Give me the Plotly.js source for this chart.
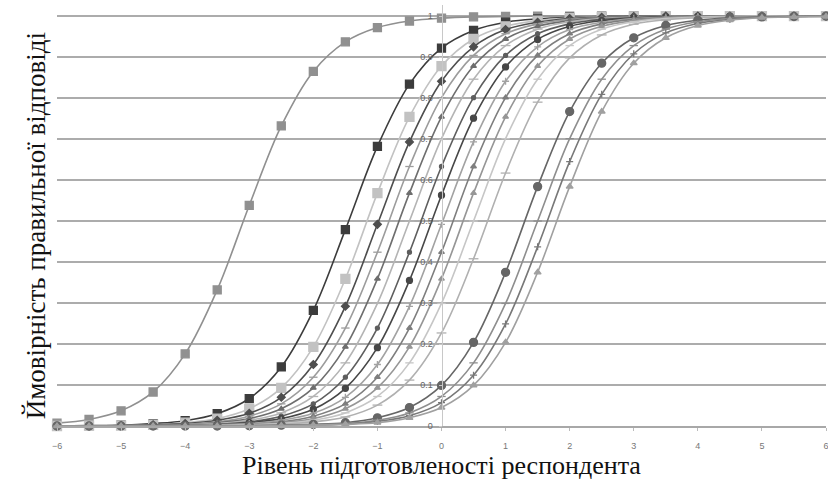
<!DOCTYPE html>
<html><head><meta charset="utf-8">
<script src="https://cdn.plot.ly/plotly-3.0.1.min.js"></script>
<style>html,body{margin:0;padding:0;background:#fff}#chart{width:828px;height:480px}</style>
</head><body><div id="chart"></div><script>
// Ability levels (x axis) at which each curve has a marker
const theta = [-6,-5.5,-5,-4.5,-4,-3.5,-3,-2.5,-2,-1.5,-1,-0.5,0,0.5,1,1.5,2,2.5,3,3.5,4,4.5,5,5.5,6];

// Probability of correct answer for each item
const item01 = [0.007,0.016,0.037,0.083,0.176,0.332,0.538,0.732,0.865,0.937,0.972,0.988,0.995,0.998,0.999,1,1,1,1,1,1,1,1,1,1];
const item02 = [0,0.001,0.002,0.006,0.013,0.030,0.067,0.144,0.282,0.479,0.682,0.834,0.922,0.965,0.985,0.993,0.997,0.999,1,1,1,1,1,1,1];
const item03 = [0,0.001,0.001,0.003,0.008,0.018,0.042,0.093,0.193,0.359,0.568,0.754,0.878,0.944,0.975,0.989,0.995,0.998,0.999,1,1,1,1,1,1];
const item04 = [0,0,0.001,0.003,0.006,0.014,0.031,0.070,0.150,0.292,0.492,0.693,0.841,0.925,0.967,0.985,0.994,0.997,0.999,1,1,1,1,1,1];
const item05 = [0,0,0.001,0.002,0.004,0.010,0.024,0.054,0.119,0.239,0.424,0.633,0.801,0.904,0.957,0.981,0.992,0.996,0.998,0.999,1,1,1,1,1];
const item06 = [0,0,0.001,0.001,0.003,0.008,0.018,0.042,0.093,0.193,0.359,0.568,0.754,0.878,0.944,0.975,0.989,0.995,0.998,0.999,1,1,1,1,1];
const item07 = [0,0,0,0.001,0.003,0.006,0.014,0.032,0.072,0.154,0.299,0.5,0.701,0.846,0.928,0.968,0.986,0.994,0.997,0.999,1,1,1,1,1];
const item08 = [0,0,0,0.001,0.002,0.004,0.010,0.024,0.054,0.119,0.239,0.424,0.633,0.801,0.904,0.957,0.981,0.992,0.996,0.998,0.999,1,1,1,1];
const item09 = [0,0,0,0.001,0.001,0.003,0.008,0.018,0.041,0.092,0.191,0.355,0.563,0.751,0.876,0.943,0.975,0.989,0.995,0.998,0.999,1,1,1,1];
const item10 = [0,0,0,0,0.001,0.003,0.006,0.014,0.031,0.070,0.150,0.292,0.492,0.693,0.841,0.925,0.967,0.985,0.994,0.997,0.999,1,1,1,1];
const item11 = [0,0,0,0,0.001,0.002,0.004,0.010,0.024,0.054,0.119,0.239,0.424,0.633,0.801,0.904,0.957,0.981,0.992,0.996,0.998,0.999,1,1,1];
const item12 = [0,0,0,0,0.001,0.001,0.003,0.008,0.018,0.042,0.093,0.193,0.359,0.568,0.754,0.878,0.944,0.975,0.989,0.995,0.998,0.999,1,1,1];
const item13 = [0,0,0,0,0,0.001,0.003,0.006,0.014,0.032,0.072,0.154,0.299,0.5,0.701,0.846,0.928,0.968,0.986,0.994,0.997,0.999,1,1,1];
const item14 = [0,0,0,0,0,0.001,0.002,0.004,0.010,0.022,0.051,0.112,0.227,0.408,0.617,0.790,0.898,0.954,0.980,0.991,0.996,0.998,0.999,1,1];
const item15 = [0,0,0,0,0,0,0.001,0.002,0.004,0.008,0.020,0.045,0.099,0.204,0.375,0.584,0.767,0.885,0.947,0.977,0.990,0.996,0.998,0.999,1];
const item16 = [0,0,0,0,0,0,0,0.001,0.003,0.006,0.014,0.032,0.072,0.154,0.299,0.5,0.701,0.846,0.928,0.968,0.986,0.994,0.997,0.999,1];
const item17 = [0,0,0,0,0,0,0,0.001,0.002,0.005,0.011,0.025,0.057,0.124,0.249,0.437,0.645,0.809,0.908,0.959,0.982,0.992,0.997,0.999,0.999];
const item18 = [0,0,0,0,0,0,0,0.001,0.002,0.004,0.008,0.020,0.045,0.099,0.204,0.375,0.584,0.767,0.885,0.947,0.977,0.990,0.996,0.998,0.999];

const xTicks = [-6,-5,-4,-3,-2,-1,0,1,2,3,4,5,6];
const yTicks = [0,0.1,0.2,0.3,0.4,0.5,0.6,0.7,0.8,0.9,1];
const yTickLabels = ['0','0.1','0.2','0.3','0.4','0.5','0.6','0.7','0.8','0.9','1'];

const xTitle = 'Рівень підготовленості респондента';
const yTitle = 'Ймовірність правильної відповіді';

const series = [item01,item02,item03,item04,item05,item06,item07,item08,item09,item10,item11,item12,item13,item14,item15,item16,item17,item18];
const colors = ['#909090','#3c3c3c','#c2c2c2','#4e4e4e','#9c9c9c','#6e6e6e','#b4b4b4','#5e5e5e','#474747','#a2a2a2','#7e7e7e','#969696','#c6c6c6','#b0b0b0','#666666','#8e8e8e','#787878','#a0a0a0'];
const symbols = ['square','square','square','diamond','line-ew','triangle-up','line-ew','circle','circle','cross-thin','triangle-up','triangle-up','line-ew','line-ew','circle','line-ew','cross-thin','triangle-up'];
const sizes = [8,8,9,6,6,5,7,4,6,5,5,5,6,7,8,6,5,6];

const traces = series.map((y, i) => ({
  x: theta, y: y, type: 'scatter', mode: 'lines+markers',
  line: {color: colors[i], width: 1.6, shape: 'spline', smoothing: 1},
  marker: {symbol: symbols[i], size: sizes[i], color: colors[i], line: {color: colors[i], width: 1.3}},
  cliponaxis: false, showlegend: false, hoverinfo: 'skip'
}));

const layout = {
  width: 828, height: 480,
  margin: {l: 57, r: 2, t: 5, b: 54},
  paper_bgcolor: '#fff', plot_bgcolor: '#fff', showlegend: false,
  font: {family: 'Liberation Sans, Arial, sans-serif', color: '#666'},
  xaxis: {
    range: [-6, 6], tickvals: xTicks, showgrid: false, zeroline: false,
    showline: true, linecolor: '#a8a8a8', linewidth: 2,
    ticks: 'outside', ticklen: 3, tickcolor: '#bbb', ticklabelstandoff: 7,
    ticklabeloverflow: 'allow',
    tickfont: {size: 9, color: '#777'},
    title: {text: xTitle, font: {family: 'Liberation Serif, Times New Roman, serif', size: 26, color: '#111'}, standoff: 0}
  },
  yaxis: {
    range: [0, 1.027], anchor: 'free', position: 0.5,
    tickvals: yTicks, ticktext: yTickLabels,
    showgrid: true, gridcolor: '#acacac', gridwidth: 2, zeroline: false,
    showline: true, linecolor: '#c8c8c8', linewidth: 1,
    ticks: 'outside', ticklen: 3, tickcolor: '#c8c8c8', ticklabelstandoff: 4,
    tickfont: {size: 9, color: '#666'}
  },
  annotations: [{
    text: yTitle, textangle: -90, xref: 'paper', yref: 'paper',
    x: -0.027, y: 0.475, xanchor: 'center', yanchor: 'middle', showarrow: false,
    font: {family: 'Liberation Serif, Times New Roman, serif', size: 27, color: '#111'}
  }]
};

Plotly.newPlot('chart', traces, layout, {staticPlot: true, displayModeBar: false});
</script></body></html>
